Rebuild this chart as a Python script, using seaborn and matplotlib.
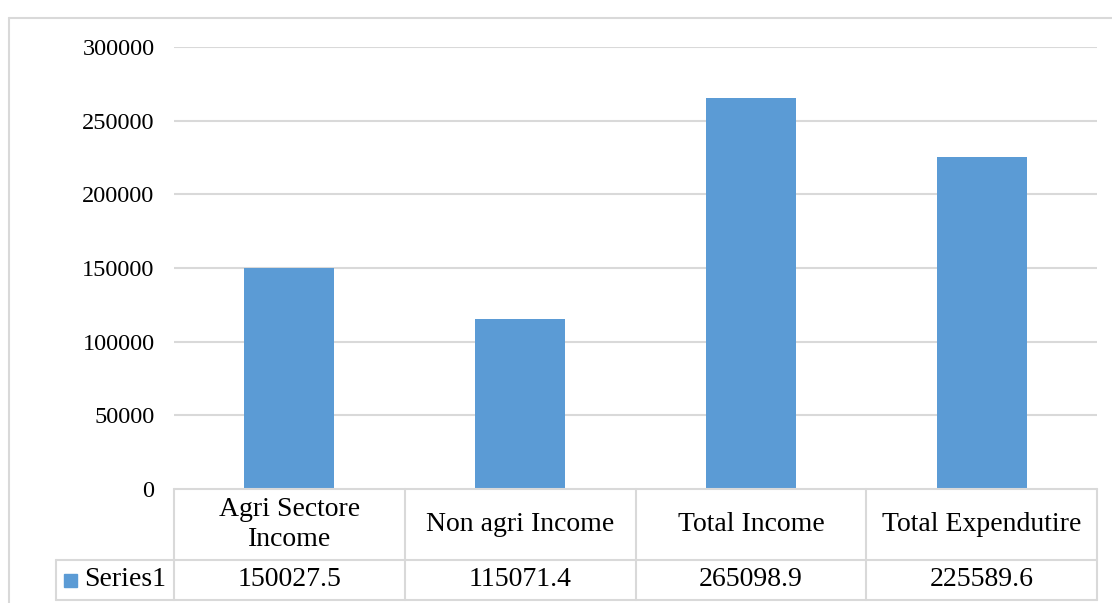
import matplotlib
matplotlib.use('Agg')
import matplotlib.pyplot as plt
import seaborn as sns
import pandas as pd
from matplotlib.patches import Rectangle
from matplotlib.lines import Line2D

categories = ['Agri Sectore\nIncome', 'Non agri Income', 'Total Income', 'Total Expendutire']
values = [150027.5, 115071.4, 265098.9, 225589.6]
value_labels = ['150027.5', '115071.4', '265098.9', '225589.6']
series_name = 'Series1'
yticks = [0, 50000, 100000, 150000, 200000, 250000, 300000]

sns.set_theme(style='white')
plt.rcParams['font.family'] = ['Liberation Serif', 'DejaVu Serif']
plt.rcParams['text.color'] = 'black'
plt.rcParams['ytick.color'] = 'black'

bar_color = '#5B9BD5'
grid_color = '#D9D9D9'
fs = 17.5
tfs = 20

fig = plt.figure(figsize=(11.12, 6.03), dpi=100)
ax = fig.add_axes([174 / 1112, 114 / 603, (1097 - 174) / 1112, (489 - 47) / 603])

df = pd.DataFrame({'cat': categories, 'val': values})
sns.barplot(data=df, x='cat', y='val', color=bar_color, width=0.39, saturation=1,
            edgecolor='none', ax=ax)

ax.set_xlim(-0.5, 3.5)
ax.set_ylim(0, 300000)
ax.set_yticks(yticks)
ax.set_yticklabels([str(t) for t in yticks], fontsize=fs, color='black')
ax.tick_params(axis='y', length=0, pad=14)
ax.set_xticks([])
ax.set_xlabel('')
ax.set_ylabel('')
for s in ax.spines.values():
    s.set_visible(False)
for t in yticks[1:]:
    ax.axhline(t, color=grid_color, lw=1.5, zorder=0)
ax.set_axisbelow(True)

# data table under the axis
tr = ax.get_xaxis_transform()
r1 = -71 / 442
r2 = -111 / 442
lab_left = -0.5 + (56 - 174) / 231
kw = dict(color=grid_color, lw=1.5, transform=tr, clip_on=False)
ax.add_line(Line2D([-0.5, 3.5], [0, 0], **kw))
ax.add_line(Line2D([lab_left, 3.5], [r1, r1], **kw))
ax.add_line(Line2D([lab_left, 3.5], [r2, r2], **kw))
ax.add_line(Line2D([lab_left, lab_left], [r1, r2], **kw))
for i in range(5):
    ax.add_line(Line2D([i - 0.5, i - 0.5], [0, r2], **kw))

for i, (c, v) in enumerate(zip(categories, value_labels)):
    ax.text(i, r1 / 2, c, transform=tr, ha='center', va='center', fontsize=tfs,
            linespacing=1.25, color='black')
    ax.text(i, (r1 + r2) / 2, v, transform=tr, ha='center', va='center', fontsize=tfs,
            color='black')

# legend key in table
ax.add_patch(Rectangle((-0.5 + (64 - 174) / 231, (r1 + r2) / 2 - 6.5 / 442), 13 / 231, 13 / 442,
                       transform=tr, clip_on=False, color=bar_color))
ax.text(-0.5 + (84 - 174) / 231, (r1 + r2) / 2, series_name, transform=tr,
        ha='left', va='center', fontsize=tfs, color='black')

# chart border
fig.add_artist(Line2D([9 / 1112, 9 / 1112], [0, 1 - 18 / 603], color=grid_color, lw=1.5))
fig.add_artist(Line2D([9 / 1112, 1], [1 - 18 / 603, 1 - 18 / 603], color=grid_color, lw=1.5))

fig.savefig('out.png', dpi=100)
